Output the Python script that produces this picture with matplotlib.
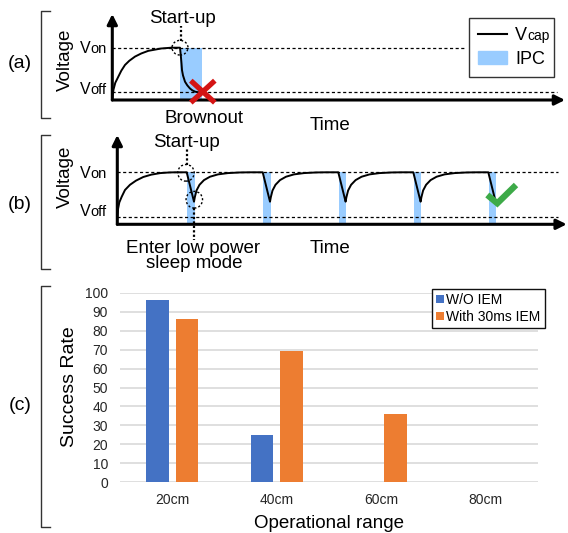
import matplotlib
matplotlib.use("Agg")
import matplotlib.pyplot as plt
from matplotlib.patches import Ellipse, Patch
from matplotlib.lines import Line2D

plt.rcParams['font.family'] = ['Liberation Sans', 'DejaVu Sans']

W, H = 568, 533

# ---- data ----
V_ON = 1.0
V_OFF = 0.145

# (a) one charge, start-up, brownout (time units, voltage normalised to Von)
A_T = [0, 0.12, 0.3, 0.6, 0.9, 1.27, 1.7, 2.27, 2.9, 3.6, 4.9, 5.9, 6.77,
       6.85, 6.92, 6.97, 7.07, 7.27, 7.5, 7.77, 8.0, 8.27, 8.77]
A_V = [0.03, 0.2, 0.33, 0.445, 0.56, 0.67, 0.75, 0.83, 0.89, 0.94, 0.985, 1.0, 1.0,
       0.85, 0.7, 0.57, 0.47, 0.35, 0.28, 0.22, 0.185, 0.16, 0.14]
A_IPC = (6.77, 9.0)
A_STARTUP = (6.77, 1.0)
A_FAIL = (9.05, 0.16)
A_VON_END = 35.3
A_VOFF_END = 44.5

# (b) first charge, then drop / recharge cycles
B_T0 = [0, 0.08, 0.2, 0.44, 0.77, 1.27, 1.87, 2.6, 3.4, 4.3, 5.2, 5.8]
B_V0 = [0.15, 0.3, 0.42, 0.53, 0.66, 0.76, 0.84, 0.91, 0.955, 0.985, 0.997, 1.0]
B_REC_DT = [0, 0.08, 0.25, 0.55, 1.0, 1.6, 2.4, 3.4, 4.6, 5.6]
B_REC_V = [0.435, 0.52, 0.65, 0.76, 0.85, 0.915, 0.96, 0.985, 0.997, 1.0]
B_DROP_T = [6.94, 14.54, 22.1, 29.6, 37.1]
B_DROP_LEN = 0.73
B_DROP_V = 0.435
B_IPC_W = 0.76
B_VON_END = 44.1
B_OK = ([37.0, 38.0, 39.87], [0.564, 0.404, 0.756])

# (c) success rate
RANGES = ['20cm', '40cm', '60cm', '80cm']
WO_IEM = [96, 25, 0, 0]
WITH_IEM = [86, 69, 36, 0]

IPC_BLUE = '#99CCFF'
BLUE = '#4472C4'
ORANGE = '#ED7D31'

fig = plt.figure(figsize=(W / 100, H / 100), dpi=100)


def px_axes(left, top, right, bottom):
    return fig.add_axes([left / W, 1 - bottom / H, (right - left) / W, (bottom - top) / H])


def ftext(x, y, s, **kw):
    return fig.text(x / W, 1 - y / H, s, **kw)


def draw_frame(ax, xmax, ymax, von_end, voff_end):
    ax.set_xlim(0, xmax)
    ax.set_ylim(0, ymax)
    ax.axis('off')
    arrow = dict(arrowstyle='-|>,head_length=0.6,head_width=0.3', color='k', lw=2.2,
                 shrinkA=0, shrinkB=0, mutation_scale=10)
    ax.annotate('', xy=(0, ymax), xytext=(0, 0), arrowprops=arrow, annotation_clip=False)
    ax.annotate('', xy=(xmax, 0), xytext=(0, 0), arrowprops=arrow, annotation_clip=False)
    ax.plot([0, von_end], [V_ON, V_ON], color='k', lw=0.9, dashes=(2.5, 2), zorder=2)
    ax.plot([0, voff_end], [V_OFF, V_OFF], color='k', lw=0.9, dashes=(2.5, 2), zorder=2)


def vlabel(x, y, sub):
    ftext(x, y, 'V', fontsize=11.5, ha='right', va='baseline')
    ftext(x, y, sub, fontsize=10.5, ha='left', va='baseline')


def bracket(top, bottom):
    fig.add_artist(Line2D([50 / W, 40.7 / W, 40.7 / W, 50 / W],
                          [1 - top / H, 1 - top / H, 1 - bottom / H, 1 - bottom / H],
                          color='#333333', lw=1))


# ---- (a) ----
ax_a = px_axes(112.3, 14, 565, 100)
draw_frame(ax_a, 45.27, 86 / 52.3, A_VON_END, A_VOFF_END)
ax_a.bar(A_IPC[0], V_ON, width=A_IPC[1] - A_IPC[0], align='edge', color=IPC_BLUE, zorder=1)
ax_a.plot(A_T, A_V, color='k', lw=1.4, zorder=3)
ax_a.add_patch(Ellipse(A_STARTUP, 1.6, 0.28, fill=False, ec='k', lw=1,
                       ls=(0, (1.5, 1.5)), zorder=4))
ax_a.plot([A_STARTUP[0] + 0.05] * 2, [1.12, 1.41], color='k', lw=1.6,
          ls=(0, (1, 1)), clip_on=False)
fx, fy = A_FAIL
ax_a.plot([fx - 1.2, fx + 1.2], [fy + 0.21, fy - 0.21], color='#D41414', lw=3.8,
          solid_capstyle='butt', clip_on=False, zorder=5)
ax_a.plot([fx - 1.2, fx + 1.2], [fy - 0.21, fy + 0.21], color='#D41414', lw=3.8,
          solid_capstyle='butt', clip_on=False, zorder=5)

leg_a = ax_a.legend([Line2D([], [], color='k', lw=1.5), Patch(color=IPC_BLUE)], ['V', 'IPC'],
                    loc='upper left', bbox_to_anchor=(469 / W, 1 - 18 / H),
                    bbox_transform=fig.transFigure, fontsize=13, frameon=True, fancybox=False,
                    edgecolor='#333333', framealpha=1, borderpad=0.5, handlelength=1.6,
                    handleheight=0.8, handletextpad=0.45, labelspacing=0.35, borderaxespad=0)
leg_a.get_frame().set_linewidth(1)

ftext(182.3, 23.3, 'Start-up', fontsize=13.5, ha='center', va='baseline')
ftext(204, 122.7, 'Brownout', fontsize=13.5, ha='center', va='baseline')
ftext(330.3, 130, 'Time', fontsize=13.5, ha='center', va='baseline')
ftext(65, 59.5, 'Voltage', fontsize=13.5, rotation=90, ha='center', va='center')
ftext(20, 63.3, '(a)', fontsize=14, ha='center', va='center')
vlabel(90.5, 53.3, 'on')
vlabel(90.5, 94, 'off')
bracket(11, 118)

# ---- (b) ----
ax_b = px_axes(117.3, 135, 566.7, 224.3)
draw_frame(ax_b, 44.94, 89.3 / 52, B_VON_END, B_VON_END)
bt = list(B_T0)
bv = list(B_V0)
for i, t0 in enumerate(B_DROP_T):
    ax_b.bar(t0 + 0.05, V_ON, width=B_IPC_W, align='edge', color=IPC_BLUE, zorder=1)
    bt += [t0, t0 + B_DROP_LEN]
    bv += [V_ON, B_DROP_V]
    if i < len(B_DROP_T) - 1:
        bt += [t0 + B_DROP_LEN + dt for dt in B_REC_DT[1:]]
        bv += B_REC_V[1:]
ax_b.plot(bt, bv, color='k', lw=1.4, zorder=3)
s0 = B_DROP_T[0]
ax_b.add_patch(Ellipse((s0 - 0.07, 0.99), 1.65, 0.32, fill=False, ec='k', lw=1,
                       ls=(0, (1.5, 1.5)), zorder=4))
ax_b.add_patch(Ellipse((s0 + 0.76, 0.473), 1.65, 0.32, fill=False, ec='k', lw=1,
                       ls=(0, (1.5, 1.5)), zorder=4))
ax_b.plot([s0] * 2, [1.15, 1.46], color='k', lw=1.6, ls=(0, (1, 1)), clip_on=False)
ax_b.plot([s0 + 0.73] * 2, [0.31, -0.3], color='k', lw=1.6, ls=(0, (1, 1)),
          clip_on=False, zorder=4)
ax_b.plot(B_OK[0], B_OK[1], color='#3DAA48', lw=4.5, solid_capstyle='butt',
          solid_joinstyle='miter', clip_on=False, zorder=5)

ftext(186.7, 146.7, 'Start-up', fontsize=13.5, ha='center', va='baseline')
ftext(193.5, 252.7, 'Enter low power', fontsize=13.5, ha='center', va='baseline')
ftext(193.8, 268, 'sleep mode', fontsize=13.5, ha='center', va='baseline')
ftext(330, 253.3, 'Time', fontsize=13.5, ha='center', va='baseline')
ftext(65, 176.7, 'Voltage', fontsize=13.5, rotation=90, ha='center', va='center')
ftext(20, 204.2, '(b)', fontsize=14, ha='center', va='center')
vlabel(90.5, 177.7, 'on')
vlabel(90.5, 216, 'off')
bracket(135, 269.3)

# ---- (c) ----
ax_c = px_axes(120, 292.7, 537.7, 482.3)
x = list(range(len(RANGES)))
ax_c.bar([i - 0.141 for i in x], WO_IEM, width=0.217, color=BLUE, label='W/O IEM', zorder=2)
ax_c.bar([i + 0.141 for i in x], WITH_IEM, width=0.217, color=ORANGE, label='With 30ms IEM',
         zorder=2)
ax_c.set_xlim(-0.5, 3.5)
ax_c.set_ylim(0, 100)
ax_c.set_yticks(range(0, 101, 10))
ax_c.set_xticks(x)
ax_c.set_xticklabels(RANGES)
ax_c.grid(axis='y', color='#D9D9D9', lw=1.2, zorder=0)
ax_c.set_axisbelow(True)
for sp in ax_c.spines.values():
    sp.set_visible(False)
ax_c.tick_params(axis='both', length=0, labelsize=10, labelcolor='#262626')
ax_c.tick_params(axis='y', pad=8.5)
ax_c.tick_params(axis='x', pad=8)
ax_c.set_ylabel('Success Rate', fontsize=14, va='center')
ax_c.yaxis.set_label_coords((69.2 - 120) / 417.7, (482.3 - 386.7) / 189.6)
ax_c.set_xlabel('Operational range', fontsize=13.5, va='center')
ax_c.xaxis.set_label_coords(0.5, (482.3 - 523) / 189.6)
leg_c = ax_c.legend(loc='upper left', bbox_to_anchor=(432.3 / W, 1 - 288.7 / H),
                    bbox_transform=fig.transFigure, fontsize=10, frameon=True, fancybox=False,
                    edgecolor='#111111', framealpha=1, borderpad=0.3, handlelength=0.52,
                    handleheight=0.52, handletextpad=0.2, labelspacing=0.2, borderaxespad=0)
leg_c.get_frame().set_linewidth(1)
ftext(20, 405.8, '(c)', fontsize=14, ha='center', va='center')
bracket(285.7, 527.3)

# subscript "cap" next to the legend's "V"
fig.canvas.draw()
r = fig.canvas.get_renderer()
vtxt = leg_a.get_texts()[0]
bb = vtxt.get_window_extent(r)
_, _, d = r.get_text_width_height_descent('lp', vtxt.get_fontproperties(), ismath=False)
fig.text(bb.x1 / W, (bb.y0 + d) / H, 'cap', fontsize=10, ha='left', va='baseline')

fig.savefig('out.png', dpi=100)
